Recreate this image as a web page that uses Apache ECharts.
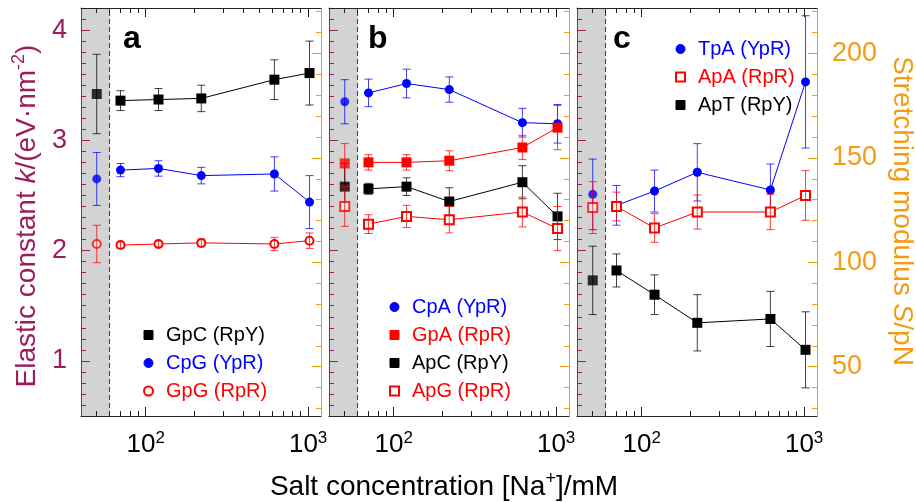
<!DOCTYPE html>
<html>
<head>
<meta charset="utf-8">
<script src="https://cdn.jsdelivr.net/npm/echarts@6/dist/echarts.min.js"></script>
<style>
  html, body { margin: 0; padding: 0; background: #fff; }
  #chart { width: 916px; height: 502px; }
</style>
</head>
<body>
<div id="chart"></div>
<script>
// salt concentration [Na+] in mM; the first point lies in the shaded region
const salt = [50, 70, 120, 220, 620, 1020];
const saltMin = 40, saltMax = 1200, shadeEdge = 60;

// panel a
const gpcK = [3.42, 3.36, 3.37, 3.38, 3.55, 3.61];
const gpcErr = [0.36, 0.09, 0.10, 0.12, 0.18, 0.29];
const cpgK = [2.65, 2.73, 2.745, 2.68, 2.695, 2.44];
const cpgErr = [0.24, 0.06, 0.07, 0.075, 0.155, 0.24];
const gpgK = [2.06, 2.05, 2.06, 2.07, 2.06, 2.09];
const gpgErr = [0.17, 0.03, 0.025, 0.035, 0.06, 0.07];

// panel b
const cpaK = [3.35, 3.43, 3.515, 3.46, 3.16, 3.15];
const cpaErr = [0.2, 0.125, 0.13, 0.115, 0.13, 0.175];
const gpaK = [2.79, 2.80, 2.80, 2.815, 2.935, 3.115];
const gpaErr = [0.18, 0.07, 0.07, 0.09, 0.11, 0.2];
const apcK = [2.58, 2.56, 2.58, 2.445, 2.62, 2.31];
const apcErr = [0.21, 0.05, 0.08, 0.125, 0.15, 0.21];
const apgK = [2.40, 2.24, 2.31, 2.28, 2.35, 2.20];
const apgErr = [0.18, 0.085, 0.1, 0.12, 0.135, 0.2];

// panel c
const tpaK = [2.51, 2.41, 2.54, 2.71, 2.55, 3.53];
const tpaErr = [0.32, 0.18, 0.19, 0.26, 0.235, 0.6];
const apaK = [2.39, 2.40, 2.205, 2.35, 2.35, 2.50];
const apaErr = [0.235, 0.13, 0.13, 0.155, 0.16, 0.225];
const aptK = [1.73, 1.82, 1.60, 1.345, 1.38, 1.10];
const aptErr = [0.31, 0.15, 0.18, 0.255, 0.25, 0.345];

// axes
const kMin = 0.5, kMax = 4.2;
const kMajorTicks = [1, 2, 3, 4];
const sMin = 26.4, sMax = 221.76;
const sMajorTicks = [50, 100, 150, 200];
const xMajorTicks = [100, 1000];
const xMinorTicks = [50, 60, 70, 80, 90, 200, 300, 400, 500, 600, 700, 800, 900];
const kMinorTicks = [];
for (let t = 6; t <= 41; t++) if (t % 10 !== 0) kMinorTicks.push(t / 10);
const sMinorTicks = [];
for (let t = 30; t <= 220; t += 10) if (t % 50 !== 0) sMinorTicks.push(t);

const FONT = 'Liberation Sans, Arial, sans-serif';
const MAROON = '#9e1b5e';
const ORANGE = '#f39c12';
const BLUE = '#0000ff';
const RED = '#ff0000';
const BLACK = '#000000';
const GREY = '#d3d3d3';

const panels = [
  {
    letter: 'a', legendLeft: 138, legendTop: 320,
    items: [
      { name: 'GpC (RpY)', k: gpcK, err: gpcErr, color: BLACK, symbol: 'rect' },
      { name: 'CpG (YpR)', k: cpgK, err: cpgErr, color: BLUE, symbol: 'circle' },
      { name: 'GpG (RpR)', k: gpgK, err: gpgErr, color: RED, symbol: 'emptyCircle' }
    ]
  },
  {
    letter: 'b', legendLeft: 384, legendTop: 292,
    items: [
      { name: 'CpA (YpR)', k: cpaK, err: cpaErr, color: BLUE, symbol: 'circle' },
      { name: 'GpA (RpR)', k: gpaK, err: gpaErr, color: RED, symbol: 'rect' },
      { name: 'ApC (RpY)', k: apcK, err: apcErr, color: BLACK, symbol: 'rect' },
      { name: 'ApG (RpR)', k: apgK, err: apgErr, color: RED, symbol: 'emptyRect' }
    ]
  },
  {
    letter: 'c', legendLeft: 670, legendTop: 34,
    items: [
      { name: 'TpA (YpR)', k: tpaK, err: tpaErr, color: BLUE, symbol: 'circle' },
      { name: 'ApA (RpR)', k: apaK, err: apaErr, color: RED, symbol: 'emptyRect' },
      { name: 'ApT (RpY)', k: aptK, err: aptErr, color: BLACK, symbol: 'rect' }
    ]
  }
];

const gridLeft = [81, 329, 577];
const letterPos = [[123, 39], [368, 39], [613, 39]];

const grids = [], xAxes = [], yAxes = [], series = [], legends = [], graphics = [];

const xLabel = (v) => '{b|10}{s|' + Math.round(Math.log10(v)) + '}';

panels.forEach((p, i) => {
  grids.push({ left: gridLeft[i], top: 8, width: 240, height: 408 });

  const xb = { type: 'log', gridIndex: i, min: saltMin, max: saltMax, z: 6, splitLine: { show: false } };
  const tickBlack = { color: '#222', width: 1 };
  xAxes.push(Object.assign({}, xb, {
    position: 'bottom',
    axisLine: { show: true, onZero: false, lineStyle: tickBlack },
    axisTick: { show: true, inside: true, length: 9, customValues: xMajorTicks, lineStyle: tickBlack },
    axisLabel: {
      show: true, customValues: xMajorTicks, margin: 14, formatter: xLabel,
      rich: {
        b: { fontSize: 26, fontFamily: FONT, color: '#000', lineHeight: 30 },
        s: { fontSize: 17, fontFamily: FONT, color: '#000', verticalAlign: 'top', lineHeight: 17 }
      }
    }
  }));
  xAxes.push(Object.assign({}, xb, {
    position: 'bottom',
    axisLine: { show: false, onZero: false },
    axisTick: { show: true, inside: true, length: 5, customValues: xMinorTicks, lineStyle: tickBlack },
    axisLabel: { show: false }
  }));
  xAxes.push(Object.assign({}, xb, {
    position: 'top',
    axisLine: { show: true, onZero: false, lineStyle: tickBlack },
    axisTick: { show: true, inside: true, length: 9, customValues: xMajorTicks, lineStyle: tickBlack },
    axisLabel: { show: false }
  }));
  xAxes.push(Object.assign({}, xb, {
    position: 'top',
    axisLine: { show: false, onZero: false },
    axisTick: { show: true, inside: true, length: 5, customValues: xMinorTicks, lineStyle: tickBlack },
    axisLabel: { show: false }
  }));

  const yk = { type: 'value', gridIndex: i, min: kMin, max: kMax, position: 'left', z: 6, splitLine: { show: false } };
  yAxes.push(Object.assign({}, yk, {
    axisLine: { show: true, onZero: false, lineStyle: { color: MAROON, width: 1 } },
    axisTick: { show: true, inside: true, length: 9, customValues: kMajorTicks, lineStyle: { color: MAROON } },
    axisLabel: { show: i === 0, customValues: kMajorTicks, color: MAROON, fontSize: 27, fontFamily: FONT, margin: 14 }
  }));
  yAxes.push(Object.assign({}, yk, {
    axisLine: { show: false, onZero: false },
    axisTick: { show: true, inside: true, length: 5, customValues: kMinorTicks, lineStyle: { color: MAROON } },
    axisLabel: { show: false }
  }));
  const ys = { type: 'value', gridIndex: i, min: sMin, max: sMax, position: 'right', z: 6, splitLine: { show: false } };
  yAxes.push(Object.assign({}, ys, {
    axisLine: { show: true, onZero: false, lineStyle: { color: ORANGE, width: 1 } },
    axisTick: { show: true, inside: true, length: 9, customValues: sMajorTicks, lineStyle: { color: ORANGE } },
    axisLabel: { show: i === 2, customValues: sMajorTicks, color: ORANGE, fontSize: 27, fontFamily: FONT, margin: 15 }
  }));
  yAxes.push(Object.assign({}, ys, {
    axisLine: { show: false, onZero: false },
    axisTick: { show: true, inside: true, length: 5, customValues: sMinorTicks, lineStyle: { color: ORANGE } },
    axisLabel: { show: false }
  }));

  const xi = 4 * i, yi = 4 * i;

  // shaded low-salt region and its dashed edge
  series.push({
    type: 'line', xAxisIndex: xi, yAxisIndex: yi, data: [], silent: true, z: 1,
    markArea: { silent: true, itemStyle: { color: GREY }, data: [[{ xAxis: saltMin }, { xAxis: shadeEdge }]] },
    markLine: {
      silent: true, symbol: 'none', label: { show: false },
      lineStyle: { color: '#333', type: [5, 3], width: 1 },
      data: [{ xAxis: shadeEdge }]
    }
  });

  p.items.forEach((it) => {
    const hollow = it.symbol.indexOf('empty') === 0;
    const size = it.symbol.indexOf('ircle') > 0 ? (hollow ? 8 : 9) : (hollow ? 9 : 10);
    const mark = {
      symbol: it.symbol, symbolSize: size,
      itemStyle: { color: it.color, borderColor: it.color, borderWidth: hollow ? 1 : 0 }
    };
    series.push(Object.assign({
      type: 'line', name: it.name, xAxisIndex: xi, yAxisIndex: yi, z: 4,
      color: it.color, showSymbol: true,
      lineStyle: { color: it.color, width: 1 },
      data: salt.slice(1).map((x, j) => [x, it.k[j + 1]])
    }, mark));
    series.push(Object.assign({
      type: 'scatter', name: it.name, xAxisIndex: xi, yAxisIndex: yi, z: 4,
      data: [[salt[0], it.k[0]]]
    }, mark));
    series.push({
      type: 'custom', name: it.name, xAxisIndex: xi, yAxisIndex: yi, z: hollow ? 5 : 3,
      itemStyle: { color: it.color },
      data: salt.map((x, j) => [x, it.k[j], it.err[j]]),
      encode: { x: 0, y: 1 },
      renderItem: (params, api) => {
        const x = api.value(0), y = api.value(1), e = api.value(2);
        const hi = api.coord([x, y + e]), lo = api.coord([x, y - e]);
        const st = { stroke: it.color, lineWidth: 1, opacity: 0.75 };
        return {
          type: 'group',
          children: [
            { type: 'line', shape: { x1: hi[0], y1: hi[1], x2: lo[0], y2: lo[1] }, style: st },
            { type: 'line', shape: { x1: hi[0] - 4, y1: hi[1], x2: hi[0] + 4, y2: hi[1] }, style: st },
            { type: 'line', shape: { x1: lo[0] - 4, y1: lo[1], x2: lo[0] + 4, y2: lo[1] }, style: st }
          ]
        };
      }
    });
  });

  legends.push({
    orient: 'vertical', left: p.legendLeft, top: p.legendTop,
    itemWidth: 9, itemHeight: 9, itemGap: 8, selectedMode: false,
    textStyle: { fontSize: 20, fontFamily: FONT, lineHeight: 20, padding: [0, 0, 0, 8] },
    data: p.items.map((it) => ({
      name: it.name, icon: it.symbol,
      itemStyle: { borderWidth: 1 },
      textStyle: { color: it.color }
    }))
  });

  graphics.push({
    type: 'text', x: letterPos[i][0], y: letterPos[i][1], z: 20,
    style: { text: p.letter, font: 'bold 32px ' + FONT, fill: '#000', verticalAlign: 'middle' }
  });
});

// axis titles
graphics.push({
  type: 'text', x: 27, y: 216, rotation: Math.PI / 2, z: 20,
  style: {
    text: '{t|Elastic constant }{i|k}{t|/(eV·nm}{s|-2}{t|)}',
    align: 'center', verticalAlign: 'middle',
    rich: {
      t: { fontSize: 28, fontFamily: FONT, fill: MAROON, lineHeight: 34 },
      i: { fontSize: 28, fontFamily: FONT, fill: MAROON, fontStyle: 'italic', lineHeight: 34 },
      s: { fontSize: 18, fontFamily: FONT, fill: MAROON, verticalAlign: 'top', lineHeight: 18 }
    }
  }
});
graphics.push({
  type: 'text', x: 902, y: 211, rotation: -Math.PI / 2, z: 20,
  style: {
    text: '{t|Stretching modulus }{i|S}{t|/pN}',
    align: 'center', verticalAlign: 'middle',
    rich: {
      t: { fontSize: 28, fontFamily: FONT, fill: ORANGE, lineHeight: 34 },
      i: { fontSize: 28, fontFamily: FONT, fill: ORANGE, fontStyle: 'italic', lineHeight: 34 }
    }
  }
});
graphics.push({
  type: 'text', x: 444, y: 487, z: 20,
  style: {
    text: '{t|Salt concentration [Na}{s|+}{t|]/mM}',
    align: 'center', verticalAlign: 'middle',
    rich: {
      t: { fontSize: 28, fontFamily: FONT, fill: '#000', lineHeight: 34 },
      s: { fontSize: 18, fontFamily: FONT, fill: '#000', verticalAlign: 'top', lineHeight: 18 }
    }
  }
});

const chart = echarts.init(document.getElementById('chart'), null, { renderer: 'canvas' });
chart.setOption({
  animation: false,
  backgroundColor: '#fff',
  grid: grids,
  xAxis: xAxes,
  yAxis: yAxes,
  legend: legends,
  series: series,
  graphic: graphics
});
</script>
</body>
</html>
